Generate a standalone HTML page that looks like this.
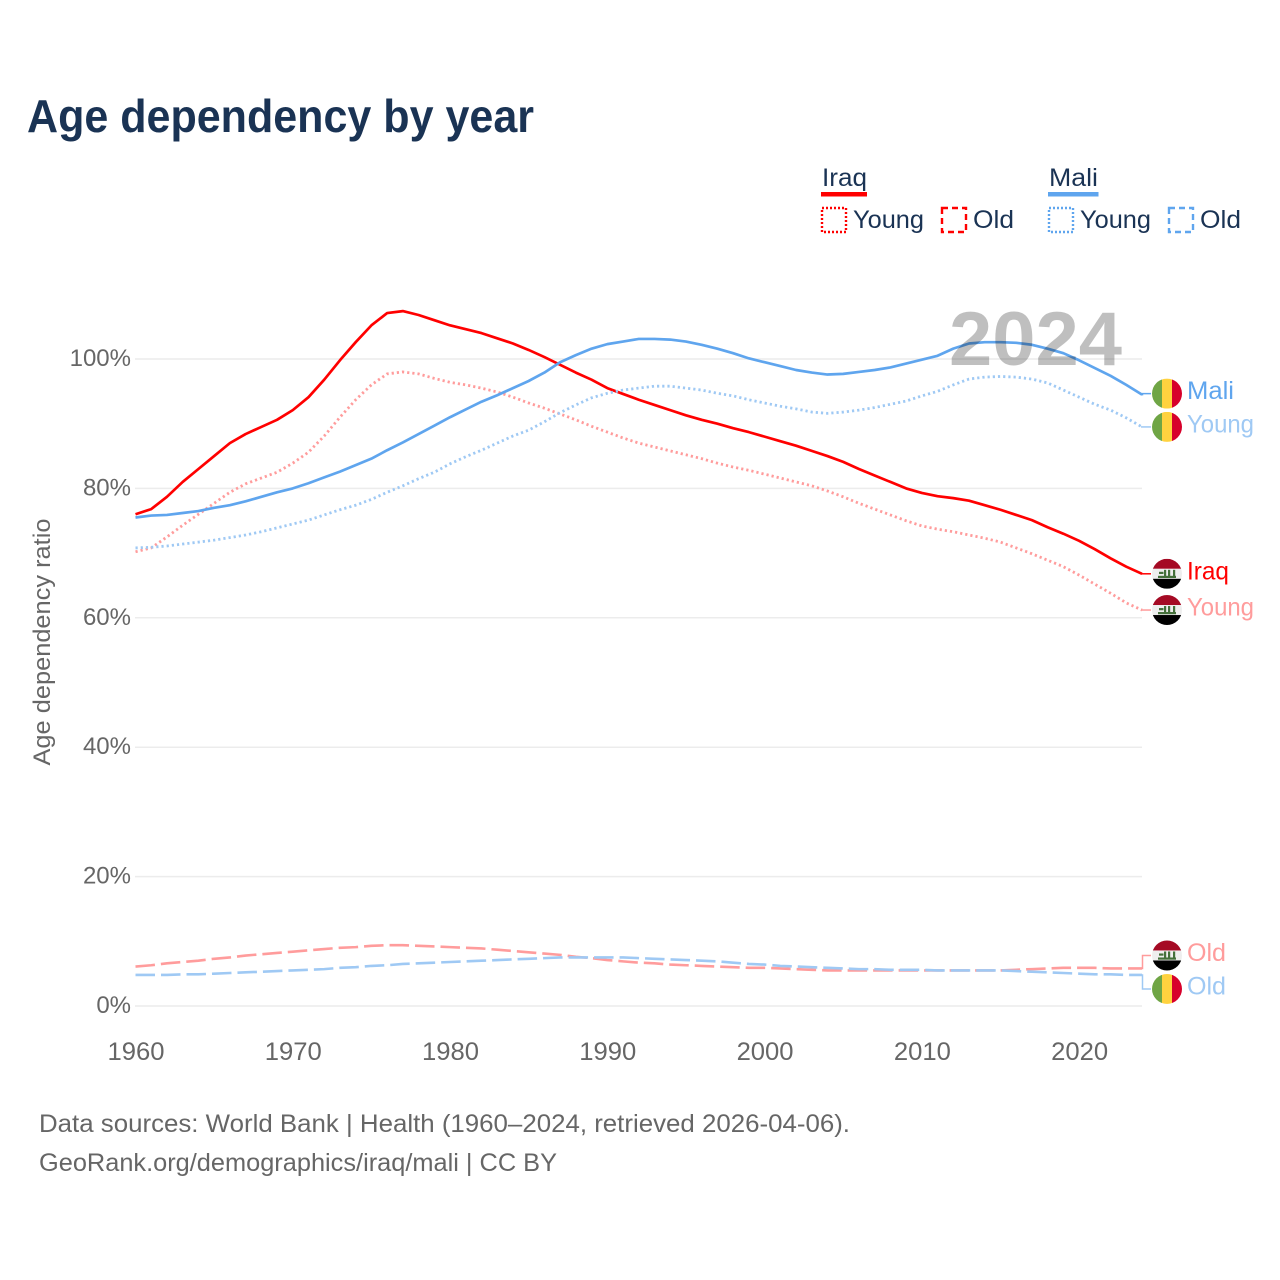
<!DOCTYPE html>
<html lang="en">
<head>
<meta charset="utf-8">
<title>Age dependency by year</title>
<style>
html,body{margin:0;padding:0;background:#fff;}
svg{display:block;font-family:"Liberation Sans","DejaVu Sans",sans-serif;}
</style>
</head>
<body>
<svg id="chart" xmlns="http://www.w3.org/2000/svg" width="1280" height="1280" viewBox="0 0 1280 1280">
  <defs>
    <clipPath id="flag-clip"><circle cx="0" cy="0" r="15"/></clipPath>
    <g id="flag-mali" clip-path="url(#flag-clip)">
      <rect x="-15" y="-15" width="10" height="30" fill="#6fa545"/>
      <rect x="-5" y="-15" width="10" height="30" fill="#ffd23f"/>
      <rect x="5" y="-15" width="10" height="30" fill="#d7002b"/>
    </g>
    <g id="flag-iraq" clip-path="url(#flag-clip)">
      <rect x="-15" y="-15" width="30" height="10" fill="#a50a24"/>
      <rect x="-15" y="-5" width="30" height="10" fill="#eeeeee"/>
      <rect x="-15" y="5" width="30" height="10" fill="#000000"/>
      <rect x="-9" y="2" width="18" height="2.2" fill="#44703a"/>
      <rect x="-3" y="-4" width="2.2" height="7" fill="#44703a"/>
      <rect x="1" y="-4" width="2.2" height="7" fill="#44703a"/>
      <rect x="6" y="-4" width="2.2" height="7" fill="#44703a"/>
      <rect x="-8" y="-2" width="4.5" height="2.2" fill="#44703a"/>
    </g>
  </defs>

  <text x="27" y="132" font-size="46" font-weight="700" fill="#1a3354" textLength="507" lengthAdjust="spacingAndGlyphs">Age dependency by year</text>

  <g font-size="25" fill="#1a3354">
    <g>
      <text x="822" y="186" textLength="45" lengthAdjust="spacingAndGlyphs">Iraq</text>
      <rect x="821" y="192" width="46" height="4.5" fill="#ff0000"/>
      <rect x="822" y="208" width="24" height="24" fill="none" stroke="#ff0000" stroke-width="2.4" stroke-dasharray="2 2"/>
      <text x="853" y="228" textLength="71" lengthAdjust="spacingAndGlyphs">Young</text>
      <rect x="942" y="208" width="24" height="24" fill="none" stroke="#ff0000" stroke-width="2.4" stroke-dasharray="6 4"/>
      <text x="973" y="228" textLength="41" lengthAdjust="spacingAndGlyphs">Old</text>
    </g>
    <g>
      <text x="1049" y="186" textLength="49" lengthAdjust="spacingAndGlyphs">Mali</text>
      <rect x="1048" y="192" width="50.5" height="4.5" fill="#5fa5ee"/>
      <rect x="1049" y="208" width="24" height="24" fill="none" stroke="#5fa5ee" stroke-width="2.4" stroke-dasharray="2 2"/>
      <text x="1080" y="228" textLength="71" lengthAdjust="spacingAndGlyphs">Young</text>
      <rect x="1169" y="208" width="24" height="24" fill="none" stroke="#5fa5ee" stroke-width="2.4" stroke-dasharray="6 4"/>
      <text x="1200" y="228" textLength="41" lengthAdjust="spacingAndGlyphs">Old</text>
    </g>
  </g>

  <g id="grid"></g>
  <g id="y-axis"></g>
  <g id="x-axis"></g>
  <text transform="translate(50,642) rotate(-90)" text-anchor="middle" font-size="24" fill="#666666" textLength="247" lengthAdjust="spacingAndGlyphs">Age dependency ratio</text>
  <g id="series"></g>
  <text x="949" y="365" font-size="76" font-weight="700" fill="#000000" fill-opacity="0.25" textLength="173" lengthAdjust="spacingAndGlyphs">2024</text>
  <g id="end-labels"></g>

  <g font-size="25" fill="#666666">
    <text x="39" y="1132" textLength="811" lengthAdjust="spacingAndGlyphs">Data sources: World Bank | Health (1960–2024, retrieved 2026-04-06).</text>
    <text x="39" y="1171" textLength="518" lengthAdjust="spacingAndGlyphs">GeoRank.org/demographics/iraq/mali | CC BY</text>
  </g>
</svg>

<script>
const years = [1960,1961,1962,1963,1964,1965,1966,1967,1968,1969,1970,1971,1972,1973,1974,1975,1976,1977,1978,1979,1980,1981,1982,1983,1984,1985,1986,1987,1988,1989,1990,1991,1992,1993,1994,1995,1996,1997,1998,1999,2000,2001,2002,2003,2004,2005,2006,2007,2008,2009,2010,2011,2012,2013,2014,2015,2016,2017,2018,2019,2020,2021,2022,2023,2024];
const iraqTotal = [76.0,76.8,78.7,81.0,83.0,85.0,87.0,88.4,89.5,90.6,92.1,94.1,96.8,99.8,102.6,105.2,107.1,107.4,106.8,106.0,105.2,104.6,104.0,103.2,102.4,101.4,100.3,99.1,97.9,96.8,95.5,94.6,93.7,92.9,92.1,91.3,90.6,90.0,89.3,88.7,88.0,87.3,86.6,85.8,85.0,84.1,83.0,82.0,81.0,80.0,79.3,78.8,78.5,78.1,77.4,76.7,75.9,75.1,74.0,73.0,71.9,70.6,69.2,67.9,66.8];
const iraqYoung = [70.2,70.8,72.5,74.3,76.0,77.7,79.4,80.7,81.6,82.5,83.9,85.6,88.1,91.0,93.7,96.0,97.7,98.0,97.7,97.0,96.4,96.0,95.5,94.9,94.1,93.2,92.4,91.5,90.6,89.6,88.7,87.8,87.0,86.4,85.8,85.2,84.6,83.9,83.3,82.8,82.2,81.6,81.0,80.4,79.6,78.7,77.7,76.8,75.9,75.0,74.2,73.7,73.3,72.8,72.3,71.7,70.8,69.9,68.9,67.9,66.6,65.2,63.8,62.3,61.2];
const iraqOld = [6.1,6.3,6.6,6.8,7.0,7.3,7.5,7.8,8.0,8.2,8.4,8.6,8.8,9.0,9.1,9.3,9.4,9.4,9.3,9.2,9.1,9.0,8.9,8.7,8.5,8.3,8.1,7.9,7.6,7.4,7.1,6.9,6.7,6.6,6.4,6.3,6.2,6.1,6.0,5.9,5.9,5.8,5.7,5.6,5.5,5.5,5.5,5.5,5.5,5.5,5.5,5.5,5.5,5.5,5.5,5.5,5.6,5.7,5.8,5.9,5.9,5.9,5.8,5.8,5.8];
const maliTotal = [75.5,75.8,75.9,76.2,76.5,77.0,77.4,78.0,78.7,79.4,80.0,80.8,81.7,82.6,83.6,84.6,85.9,87.1,88.4,89.7,91.0,92.2,93.4,94.4,95.5,96.6,97.9,99.5,100.6,101.6,102.3,102.7,103.1,103.1,103.0,102.7,102.2,101.6,100.9,100.1,99.5,98.9,98.3,97.9,97.6,97.7,98.0,98.3,98.7,99.3,99.9,100.5,101.6,102.4,102.6,102.6,102.5,102.2,101.6,100.9,99.8,98.6,97.4,96.0,94.5];
const maliYoung = [70.8,70.9,71.1,71.4,71.7,72.0,72.4,72.8,73.3,73.9,74.5,75.1,75.9,76.7,77.4,78.3,79.4,80.4,81.5,82.5,83.8,84.9,85.9,87.0,88.1,89.0,90.3,91.7,92.9,94.0,94.7,95.2,95.5,95.8,95.8,95.5,95.2,94.7,94.3,93.7,93.2,92.7,92.3,91.8,91.6,91.8,92.1,92.5,93.0,93.5,94.3,95.0,96.0,96.9,97.2,97.3,97.2,96.9,96.3,95.2,94.1,93.0,92.1,90.9,89.5];
const maliOld = [4.8,4.8,4.8,4.9,4.9,5.0,5.1,5.2,5.3,5.4,5.5,5.6,5.7,5.9,6.0,6.2,6.3,6.5,6.6,6.7,6.8,6.9,7.0,7.1,7.2,7.3,7.4,7.5,7.5,7.5,7.5,7.5,7.4,7.3,7.2,7.1,7.0,6.9,6.7,6.5,6.4,6.2,6.1,6.0,5.9,5.8,5.7,5.7,5.6,5.6,5.6,5.5,5.5,5.5,5.5,5.5,5.4,5.3,5.2,5.1,5.0,4.9,4.9,4.8,4.8];
const yTickValues = [0,20,40,60,80,100];
const yTickLabels = ['0%','20%','40%','60%','80%','100%'];
const xTickValues = [1960,1970,1980,1990,2000,2010,2020];
const xTickLabels = ['1960','1970','1980','1990','2000','2010','2020'];

const SVG_NS = 'http://www.w3.org/2000/svg';
const xScale = function (year) { return 135.5 + (year - 1960) * (1142 - 135.5) / 64; };
const yScale = function (value) { return 1006 - value * 6.47; };

const grid = document.getElementById('grid');
const yAxis = document.getElementById('y-axis');
const xAxis = document.getElementById('x-axis');
const seriesGroup = document.getElementById('series');
const endLabels = document.getElementById('end-labels');

yTickValues.forEach(function (v, i) {
  const line = document.createElementNS(SVG_NS, 'line');
  
  
  line.setAttribute('x1', 135);
  line.setAttribute('x2', 1142);
  line.setAttribute('y1', yScale(v));
  line.setAttribute('y2', yScale(v));
  line.setAttribute('stroke', '#ececec');
  line.setAttribute('stroke-width', 1.5);
  grid.appendChild(line);

  const t = document.createElementNS(SVG_NS, 'text');
  
  
  t.setAttribute('x', 131);
  t.setAttribute('y', yScale(v) + 7);
  t.setAttribute('text-anchor', 'end');
  t.setAttribute('font-size', 24);
  t.setAttribute('fill', '#666666');
  t.textContent = yTickLabels[i];
  yAxis.appendChild(t);
});

xTickValues.forEach(function (v, i) {
  const t = document.createElementNS(SVG_NS, 'text');
  
  
  t.setAttribute('x', xScale(v) + 0.5);
  t.setAttribute('y', 1060);
  t.setAttribute('text-anchor', 'middle');
  t.setAttribute('font-size', 25);
  t.setAttribute('fill', '#666666');
  t.setAttribute('textLength', 57);
  t.setAttribute('lengthAdjust', 'spacingAndGlyphs');
  t.textContent = xTickLabels[i];
  xAxis.appendChild(t);
});

function drawLine(values, color, width, dash, name) {
  const d = values.map(function (v, i) {
    return (i ? 'L' : 'M') + xScale(years[i]).toFixed(2) + ' ' + yScale(v).toFixed(2);
  }).join(' ');
  const p = document.createElementNS(SVG_NS, 'path');
  
  
  p.setAttribute('d', d);
  p.setAttribute('fill', 'none');
  p.setAttribute('stroke', color);
  p.setAttribute('stroke-width', width);
  p.setAttribute('stroke-linejoin', 'round');
  if (dash) p.setAttribute('stroke-dasharray', dash);
  seriesGroup.appendChild(p);
}

function drawEndLabel(values, color, flag, text, textWidth, offset, name) {
  const last = values[values.length - 1];
  const yEnd = yScale(last);
  const yLabel = yEnd + offset;

  const c = document.createElementNS(SVG_NS, 'polyline');
  
  
  c.setAttribute('points', '1141,' + yEnd + ' 1142.5,' + yEnd + ' 1142.5,' + yLabel + ' 1151,' + yLabel);
  c.setAttribute('fill', 'none');
  c.setAttribute('stroke', color);
  c.setAttribute('stroke-width', 1.5);
  endLabels.appendChild(c);

  const u = document.createElementNS(SVG_NS, 'use');
  
  
  u.setAttribute('href', '#' + flag);
  u.setAttribute('transform', 'translate(1167,' + yLabel + ')');
  endLabels.appendChild(u);

  const t = document.createElementNS(SVG_NS, 'text');
  
  
  t.setAttribute('x', 1187);
  t.setAttribute('y', yLabel + 5.5);
  t.setAttribute('font-size', 25);
  t.setAttribute('fill', color);
  t.setAttribute('textLength', textWidth);
  t.setAttribute('lengthAdjust', 'spacingAndGlyphs');
  t.textContent = text;
  endLabels.appendChild(t);
}

const RED = '#ff0000', RED_LIGHT = '#ff9c9c', BLUE = '#5fa5ee', BLUE_LIGHT = '#9fc9f4';

drawLine(iraqOld, RED_LIGHT, 2.6, '19.5 6', 'iraq-old-line');
drawLine(iraqYoung, RED_LIGHT, 2.8, '2.2 3', 'iraq-young-line');
drawLine(iraqTotal, RED, 2.7, null, 'iraq-total-line');
drawLine(maliOld, BLUE_LIGHT, 2.6, '19.5 6', 'mali-old-line');
drawLine(maliYoung, BLUE_LIGHT, 2.8, '2.2 3', 'mali-young-line');
drawLine(maliTotal, BLUE, 2.7, null, 'mali-total-line');

drawEndLabel(maliTotal, BLUE, 'flag-mali', 'Mali', 47, -1, 'mali-total');
drawEndLabel(maliYoung, BLUE_LIGHT, 'flag-mali', 'Young', 67, 0, 'mali-young');
drawEndLabel(iraqTotal, RED, 'flag-iraq', 'Iraq', 42, 0, 'iraq-total');
drawEndLabel(iraqYoung, RED_LIGHT, 'flag-iraq', 'Young', 67, 0, 'iraq-young');
drawEndLabel(iraqOld, RED_LIGHT, 'flag-iraq', 'Old', 39, -13, 'iraq-old');
drawEndLabel(maliOld, BLUE_LIGHT, 'flag-mali', 'Old', 39, 14, 'mali-old');
</script>
</body>
</html>
